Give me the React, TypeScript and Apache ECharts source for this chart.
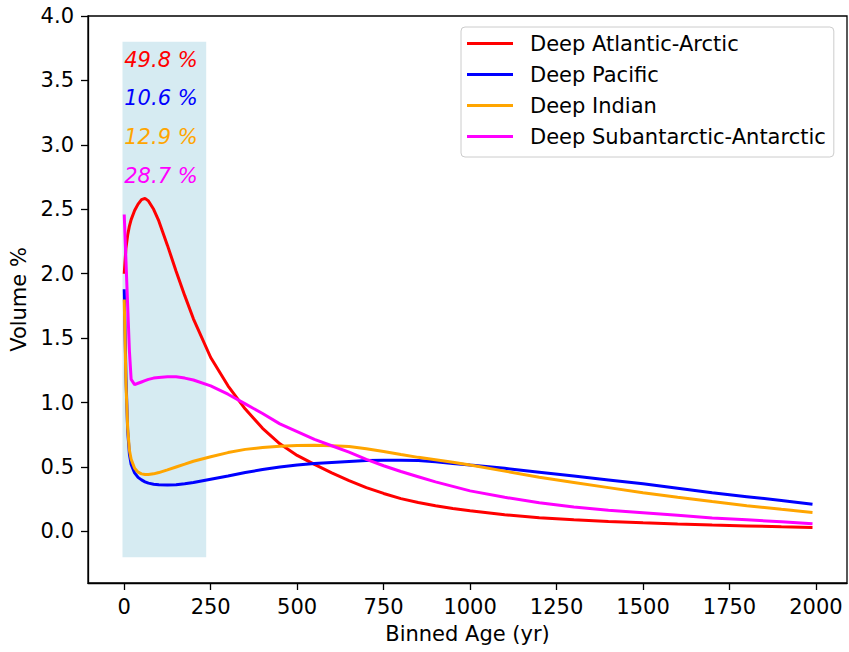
import React, { useEffect, useRef } from 'react';
import * as echarts from 'echarts';

// Binned age (yr)
const ages = [0, 5, 10, 15, 20, 30, 40, 50, 60, 70, 85, 100, 125, 150, 175, 200, 250, 300, 350, 400, 450, 500, 550, 600, 650, 700, 750, 800, 850, 900, 950, 1000, 1100, 1200, 1300, 1400, 1500, 1600, 1700, 1800, 1900, 1990];

const atlanticArctic = [2.0, 2.2, 2.3, 2.37, 2.42, 2.49, 2.54, 2.575, 2.585, 2.565, 2.5, 2.41, 2.22, 2.02, 1.83, 1.65, 1.35, 1.13, 0.95, 0.8, 0.68, 0.59, 0.52, 0.455, 0.395, 0.34, 0.295, 0.255, 0.225, 0.2, 0.178, 0.16, 0.13, 0.106, 0.09, 0.078, 0.067, 0.058, 0.05, 0.043, 0.036, 0.03];
const pacific = [1.88, 1.2, 0.78, 0.6, 0.52, 0.455, 0.42, 0.4, 0.385, 0.375, 0.367, 0.362, 0.36, 0.362, 0.37, 0.38, 0.405, 0.43, 0.458, 0.48, 0.5, 0.515, 0.527, 0.535, 0.543, 0.55, 0.553, 0.553, 0.55, 0.54, 0.528, 0.515, 0.49, 0.46, 0.43, 0.4, 0.37, 0.335, 0.3, 0.27, 0.24, 0.212];
const indian = [1.8, 1.15, 0.8, 0.63, 0.56, 0.49, 0.46, 0.447, 0.442, 0.442, 0.447, 0.457, 0.478, 0.5, 0.522, 0.545, 0.58, 0.612, 0.637, 0.652, 0.662, 0.667, 0.668, 0.666, 0.66, 0.642, 0.62, 0.597, 0.575, 0.556, 0.537, 0.515, 0.468, 0.42, 0.38, 0.34, 0.3, 0.265, 0.232, 0.2, 0.172, 0.148];
const subantarcticAntarctic = [2.46, 2.1, 1.75, 1.4, 1.18, 1.14, 1.15, 1.16, 1.17, 1.18, 1.19, 1.195, 1.2, 1.2, 1.19, 1.175, 1.13, 1.065, 0.99, 0.915, 0.835, 0.775, 0.715, 0.665, 0.615, 0.56, 0.51, 0.465, 0.425, 0.385, 0.35, 0.315, 0.265, 0.222, 0.19, 0.165, 0.145, 0.125, 0.105, 0.09, 0.075, 0.06];

const seriesNames = ['Deep Atlantic-Arctic', 'Deep Pacific', 'Deep Indian', 'Deep Subantarctic-Antarctic'];
const seriesValues = [atlanticArctic, pacific, indian, subantarcticAntarctic];
const seriesColors = ['#ff0000', '#0000ff', '#ffa500', '#ff00ff'];

// Volume share annotations
const shareLabels = ['49.8 %', '10.6 %', '12.9 %', '28.7 %'];
const shareY = [3.6, 3.3, 3.0, 2.7];
const shareX = 0;

// Shaded span
const shadeX = [-5, 237];
const shadeY = [-0.2, 3.8];

const xTicks = [0, 250, 500, 750, 1000, 1250, 1500, 1750, 2000];
const yTicks = [0, 0.5, 1.0, 1.5, 2.0, 2.5, 3.0, 3.5, 4.0];
const xRange = [-104.75, 2089.75];
const yRange = [-0.4, 4.0];

const FONT = 'DejaVu Sans';
const FS = 21;

export default function App() {
  const ref = useRef<HTMLDivElement>(null);
  useEffect(() => {
    if (!ref.current) return;
    const chart = echarts.init(ref.current, undefined, { renderer: 'svg' });
    const lineSeries = seriesNames.map((name, i) => ({
      name,
      type: 'line',
      data: ages.map((a, j) => [a, seriesValues[i][j]]),
      showSymbol: false,
      symbol: 'none',
      lineStyle: { color: seriesColors[i], width: 3 },
      itemStyle: { color: seriesColors[i] },
      z: 3,
    }));
    const option: any = {
      animation: false,
      backgroundColor: '#fff',
      grid: { left: 88, right: 2, top: 16, bottom: 69, show: true, borderColor: '#000', borderWidth: 1.3, backgroundColor: 'transparent' },
      legend: {
        data: seriesNames,
        orient: 'vertical',
        left: 461,
        top: 27,
        icon: 'rect',
        itemWidth: 46,
        itemHeight: 3,
        itemGap: 10,
        padding: [6, 8, 10, 6],
        borderColor: '#cccccc',
        borderWidth: 1,
        borderRadius: 4,
        backgroundColor: 'rgba(255,255,255,0.8)',
        textStyle: { fontFamily: FONT, fontSize: FS, color: '#000', lineHeight: 21, padding: [0, 0, 0, 12] },
      },
      xAxis: {
        type: 'value',
        min: xRange[0],
        max: xRange[1],
        name: 'Binned Age (yr)',
        nameLocation: 'middle',
        nameGap: 40,
        nameTextStyle: { fontFamily: FONT, fontSize: FS, color: '#000' },
        axisLine: { show: true, onZero: false, lineStyle: { color: '#000', width: 1.3 } },
        axisTick: { show: true, length: 7, customValues: xTicks, lineStyle: { color: '#000', width: 1.3 } },
        axisLabel: { customValues: xTicks, margin: 13, fontFamily: FONT, fontSize: FS, color: '#000', formatter: (v: number) => String(v) },
        splitLine: { show: false },
      },
      yAxis: {
        type: 'value',
        min: yRange[0],
        max: yRange[1],
        name: 'Volume %',
        nameLocation: 'middle',
        nameGap: 58,
        nameRotate: 90,
        nameTextStyle: { fontFamily: FONT, fontSize: FS, color: '#000' },
        axisLine: { show: true, onZero: false, lineStyle: { color: '#000', width: 1.3 } },
        axisTick: { show: true, length: 7, customValues: yTicks, lineStyle: { color: '#000', width: 1.3 } },
        axisLabel: { customValues: yTicks, margin: 14, fontFamily: FONT, fontSize: FS, color: '#000', formatter: (v: number) => v.toFixed(1) },
        splitLine: { show: false },
      },
      series: [
        {
          name: 'shade',
          type: 'line',
          data: [],
          z: 1,
          silent: true,
          markArea: {
            silent: true,
            itemStyle: { color: 'rgba(173,216,230,0.5)', borderWidth: 0 },
            data: [[{ coord: [shadeX[0], shadeY[0]] }, { coord: [shadeX[1], shadeY[1]] }]],
          },
        },
        ...lineSeries,
        {
          name: 'shares',
          type: 'scatter',
          symbolSize: 0,
          silent: true,
          z: 4,
          itemStyle: { opacity: 1 },
          data: shareLabels.map((t, i) => ({
            value: [shareX, shareY[i]],
            label: {
              show: true,
              formatter: t,
              position: [0, -8],
              align: 'left',
              verticalAlign: 'middle',
              color: seriesColors[i],
              opacity: 1,
              fontFamily: FONT,
              fontSize: FS,
              fontStyle: 'italic',
            },
          })),
        },
      ],
    };
    chart.setOption(option);
    return () => chart.dispose();
  }, []);
  return <div ref={ref} style={{ position: 'absolute', left: 0, top: 0, width: 849, height: 652 }} />;
}
